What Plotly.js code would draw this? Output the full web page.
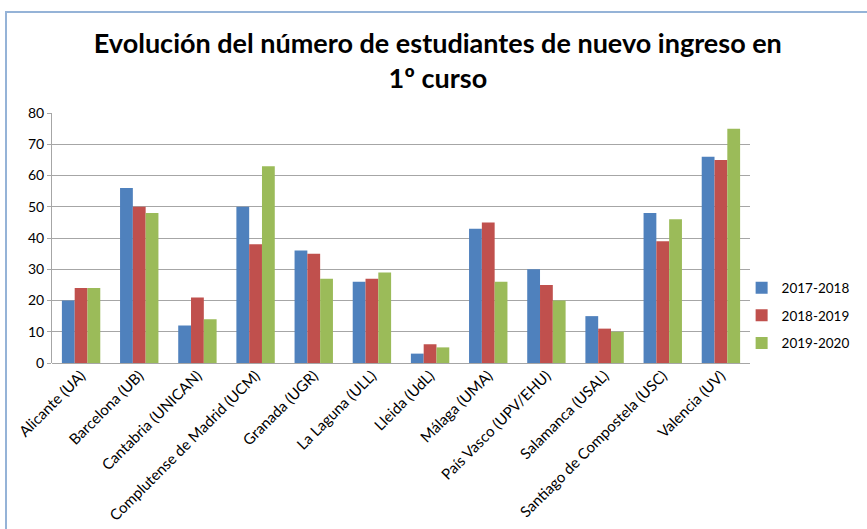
<!DOCTYPE html>
<html>
<head>
<meta charset="utf-8">
<script src="https://cdn.plot.ly/plotly-3.0.1.min.js"></script>
<style>
html,body{margin:0;padding:0;background:#fff;}
#wrap{position:relative;width:867px;height:529px;overflow:hidden;}
#chart{width:867px;height:529px;}
#frame{position:absolute;left:5px;top:11px;width:900px;height:600px;border-left:2px solid #95B3D7;border-top:2px solid #95B3D7;pointer-events:none;}
</style>
</head>
<body>
<div id="wrap"><div id="chart"></div><div id="frame"></div></div>
<script>
const categories = ["Alicante (UA)", "Barcelona (UB)", "Cantabria (UNICAN)", "Complutense de Madrid (UCM)", "Granada (UGR)", "La Laguna (ULL)", "Lleida (UdL)", "Málaga (UMA)", "País Vasco (UPV/EHU)", "Salamanca (USAL)", "Santiago de Compostela (USC)", "Valencia (UV)"];
const seriesNames = ["2017-2018", "2018-2019", "2019-2020"];
const values2017 = [20, 56, 12, 50, 36, 26, 3, 43, 30, 15, 48, 66];
const values2018 = [24, 50, 21, 38, 35, 27, 6, 45, 25, 11, 39, 65];
const values2019 = [24, 48, 14, 63, 27, 29, 5, 26, 20, 10, 46, 75];
const yTicks = [0, 10, 20, 30, 40, 50, 60, 70, 80];
const titleText = "Evolución del número de estudiantes de nuevo ingreso en<br>1º curso";

const colors = ["#4F81BD", "#C0504D", "#9BBB59"];
const allValues = [values2017, values2018, values2019];

const traces = allValues.map((vals, i) => ({
  type: "bar",
  name: seriesNames[i],
  x: categories,
  y: vals,
  legendgroup: "g" + i,
  marker: {color: colors[i], line: {width: 0}}
}));

const font = "Lato, 'Open Sans', sans-serif";
const layout = {
  width: 867, height: 529,
  margin: {l: 52, r: 114, t: 113, b: 166},
  paper_bgcolor: "#ffffff",
  plot_bgcolor: "#ffffff",
  font: {family: font, color: "#000", size: 13},
  title: {text: "<b>" + titleText + "</b>", font: {family: font, size: 27, color: "#000"}, x: 0.505, xanchor: "center", y: 0.9, yanchor: "middle"},
  barmode: "group",
  bargap: 0.34,
  bargroupgap: 0,
  xaxis: {
    type: "category",
    tickangle: -45,
    showgrid: false,
    showline: false,
    ticks: "",
    tickfont: {family: font, size: 15, color: "#000"},
    automargin: false
  },
  yaxis: {
    range: [0, 80],
    tickvals: yTicks,
    showgrid: true,
    gridcolor: "#A6A6A6",
    gridwidth: 1,
    showline: true,
    linecolor: "#A6A6A6",
    linewidth: 1,
    ticks: "outside",
    ticklen: 4,
    tickcolor: "#A6A6A6",
    zeroline: true,
    zerolinecolor: "#A6A6A6",
    zerolinewidth: 1,
    tickfont: {family: font, size: 14, color: "#000"},
    automargin: false
  },
  legend: {
    x: 0.988, xanchor: "left",
    y: 0.19, yanchor: "middle",
    font: {family: font, size: 13.5, color: "#000"},
    traceorder: "grouped",
    tracegroupgap: 7,
    itemwidth: 30,
    bgcolor: "rgba(0,0,0,0)"
  },
  showlegend: true
};

Plotly.newPlot("chart", traces, layout, {displayModeBar: false, staticPlot: true});
</script>
</body>
</html>
